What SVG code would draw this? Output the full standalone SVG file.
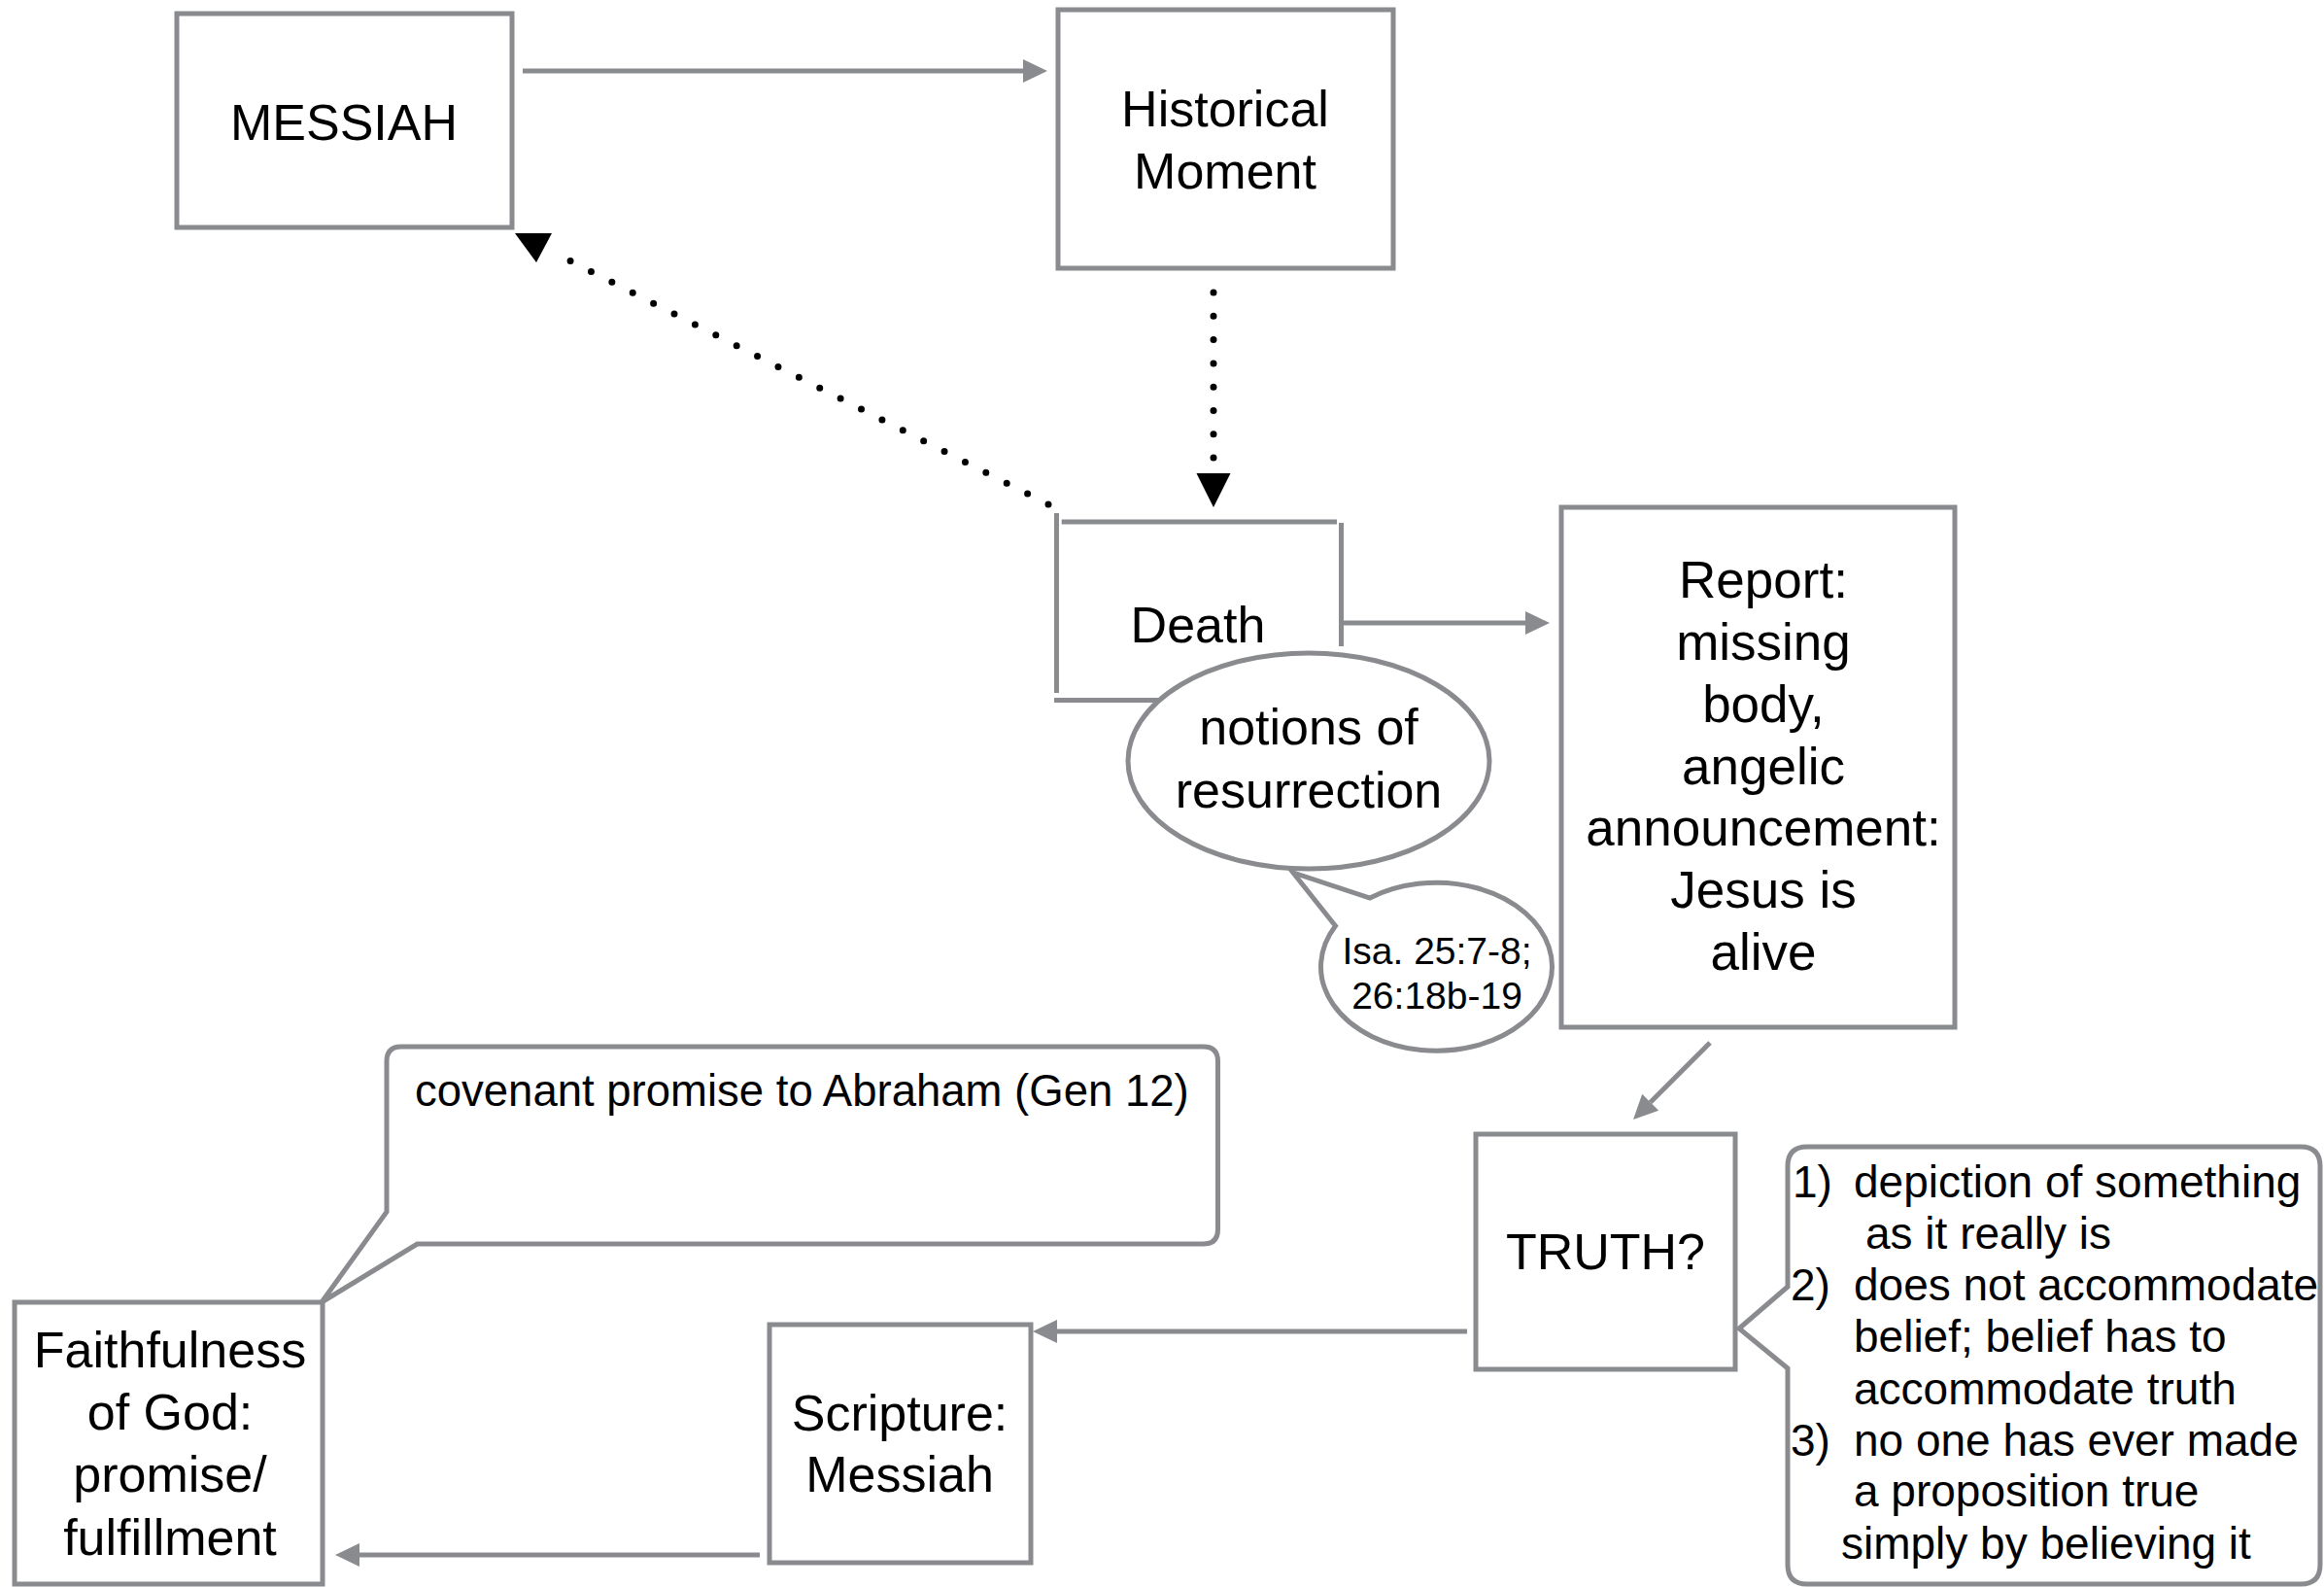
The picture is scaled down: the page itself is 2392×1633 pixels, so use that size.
<svg xmlns="http://www.w3.org/2000/svg" width="2392" height="1633" viewBox="0 0 2392 1633">
  <style>
    .box { fill: #ffffff; stroke: #898b8e; stroke-width: 5; }
    .edge { fill: none; stroke: #898b8e; stroke-width: 5; }
    .grey { fill: none; stroke: #898b8e; stroke-width: 5; }
    .dots { fill: none; stroke: #000000; stroke-width: 7; stroke-linecap: round; }
    text { font-family: "Liberation Sans", Arial, sans-serif; fill: #000000; }
    .t52 { font-size: 52px; text-anchor: middle; }
    .t53 { font-size: 53px; text-anchor: middle; }
    .t39 { font-size: 39px; text-anchor: middle; }
    .t46 { font-size: 46px; }
    .t45 { font-size: 45.5px; }
  </style>
  <defs>
    <marker id="greyHead" markerUnits="userSpaceOnUse" refX="0" refY="0" markerWidth="30" markerHeight="30" orient="auto" overflow="visible">
      <path d="M0,-12 L25,0 L0,12 Z" fill="#898b8e"/>
    </marker>
    <marker id="blackHead" markerUnits="userSpaceOnUse" refX="0" refY="0" markerWidth="40" markerHeight="40" orient="auto" overflow="visible">
      <path d="M0,-17.5 L35,0 L0,17.5 Z" fill="#000000"/>
    </marker>
    <marker id="blackHeadDown" markerUnits="userSpaceOnUse" refX="0" refY="0" markerWidth="40" markerHeight="40" orient="90" overflow="visible">
      <path d="M-17.7,35.7 L12.3,13.7 L-17.7,-2.3 Z" fill="#000000"/>
    </marker>
  </defs>
  <rect x="0" y="0" width="2392" height="1633" fill="#ffffff"/>

  <g id="connectors">
    <line class="grey" x1="538" y1="73" x2="1053" y2="73" marker-end="url(#greyHead)"/>
    <line class="dots" x1="1249" y1="301" x2="1249" y2="487" stroke-dasharray="0 24.3" marker-end="url(#blackHead)"/>
    <line class="dots" x1="1079" y1="519" x2="565.7" y2="257.7" stroke-dasharray="0 24" marker-end="url(#blackHeadDown)"/>
    <line class="grey" x1="1383" y1="641" x2="1570" y2="641" marker-end="url(#greyHead)"/>
    <line class="grey" x1="1760" y1="1073" x2="1698.7" y2="1134.3" marker-end="url(#greyHead)"/>
    <line class="grey" x1="1510" y1="1370" x2="1088" y2="1370" marker-end="url(#greyHead)"/>
    <line class="grey" x1="782" y1="1600" x2="370" y2="1600" marker-end="url(#greyHead)"/>
  </g>

  <g id="messiah">
    <rect class="box" x="182" y="14" width="345" height="220"/>
    <text class="t52" x="354" y="144">MESSIAH</text>
  </g>

  <g id="historical-moment">
    <rect class="box" x="1089" y="10" width="345" height="266"/>
    <text class="t52" x="1261" y="130">Historical</text>
    <text class="t52" x="1261" y="194">Moment</text>
  </g>

  <g id="death">
    <path class="edge" d="M1092.7,537 H1376 M1087.5,528 V713 M1380.5,538 V665 M1085,720.5 H1300"/>
    <text class="t52" x="1233" y="661">Death</text>
  </g>

  <g id="notions-of-resurrection">
    <ellipse class="box" cx="1347" cy="783" rx="186" ry="111"/>
    <text class="t52" x="1347" y="766">notions of</text>
    <text class="t52" x="1347" y="831">resurrection</text>
  </g>

  <g id="isaiah-reference">
    <path class="box" d="M1410,924 A119,86.5 0 1 1 1374.5,952.7 L1331,898 Z"/>
    <text class="t39" x="1479" y="992">Isa. 25:7-8;</text>
    <text class="t39" x="1479" y="1038">26:18b-19</text>
  </g>

  <g id="report">
    <rect class="box" x="1607" y="522" width="405" height="535"/>
    <text class="t53" x="1815" y="615">Report:</text>
    <text class="t53" x="1815" y="679">missing</text>
    <text class="t53" x="1815" y="743">body,</text>
    <text class="t53" x="1815" y="807">angelic</text>
    <text class="t53" x="1815" y="870">announcement:</text>
    <text class="t53" x="1815" y="934">Jesus is</text>
    <text class="t53" x="1815" y="998">alive</text>
  </g>

  <g id="truth">
    <rect class="box" x="1519" y="1167" width="267" height="242"/>
    <text class="t52" x="1652.5" y="1306">TRUTH?</text>
  </g>

  <g id="truth-notes">
    <path class="box" d="M1860,1180 H2368 Q2388,1180 2388,1200 V1610 Q2388,1630 2368,1630 H1860 Q1840,1630 1840,1610 V1408 L1790,1367 L1840,1324 V1200 Q1840,1180 1860,1180 Z"/>
    <text class="t46" x="1845" y="1232">1)</text>
    <text class="t46" x="1908" y="1232">depiction of something</text>
    <text class="t46" x="1920" y="1285">as it really is</text>
    <text class="t46" x="1843" y="1338">2)</text>
    <text class="t46" x="1908" y="1338">does not accommodate</text>
    <text class="t46" x="1908" y="1391">belief; belief has to</text>
    <text class="t46" x="1908" y="1445">accommodate truth</text>
    <text class="t46" x="1843" y="1498">3)</text>
    <text class="t46" x="1908" y="1498">no one has ever made</text>
    <text class="t46" x="1908" y="1550">a proposition true</text>
    <text class="t46" x="1895" y="1604">simply by believing it</text>
  </g>

  <g id="scripture-messiah">
    <rect class="box" x="792" y="1363" width="269" height="245"/>
    <text class="t52" x="926" y="1472">Scripture:</text>
    <text class="t52" x="926" y="1535">Messiah</text>
  </g>

  <g id="covenant-promise">
    <path class="box" d="M413,1077 H1238.5 Q1253.5,1077 1253.5,1092 V1265 Q1253.5,1280 1238.5,1280 H429.4 L331,1340 L398,1247 V1092 Q398,1077 413,1077 Z"/>
    <text class="t45" x="427" y="1138">covenant promise to Abraham (Gen 12)</text>
  </g>

  <g id="faithfulness-of-god">
    <rect class="box" x="15" y="1340" width="317" height="290"/>
    <text class="t52" x="175" y="1407">Faithfulness</text>
    <text class="t52" x="175" y="1471">of God:</text>
    <text class="t52" x="175" y="1535">promise/</text>
    <text class="t52" x="175" y="1600">fulfillment</text>
  </g>
</svg>
